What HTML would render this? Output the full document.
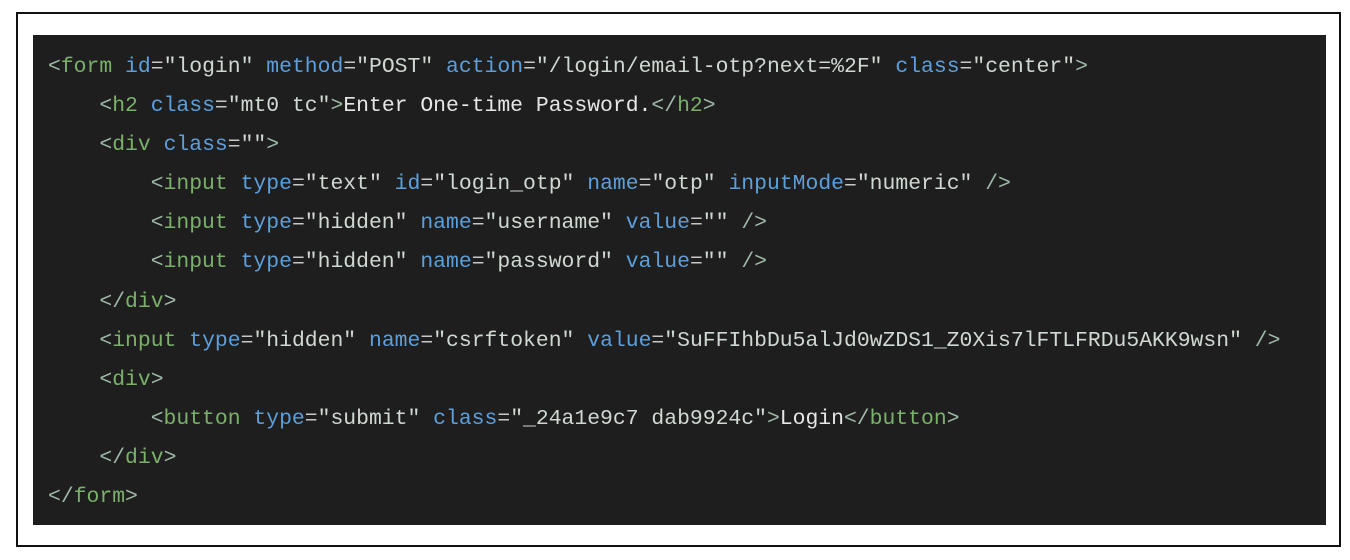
<!DOCTYPE html>
<html><head><meta charset="utf-8"><style>
body{margin:0;width:1350px;height:560px;background:#fff;position:relative;overflow:hidden}
.frame{position:absolute;left:16px;top:12px;width:1321px;height:531px;border:2px solid #111;box-sizing:content-box}
.code{position:absolute;left:33px;top:35px;width:1293px;height:490px;background:#1e1e1e;box-sizing:border-box;padding:13px 0 0 15px;font-family:"Liberation Mono",monospace;font-size:21.4px;line-height:39.1px;white-space:pre;color:#d4d4d4}
.p{color:#9fb8a8}.t{color:#7ab06a}.a{color:#5c9fdc}.e{color:#c8c8c8}.s{color:#d0d8d2}.x{color:#e6e6e6}
</style></head><body>
<div class="frame"></div>
<div class="code"><span class="p">&lt;</span><span class="t">form</span> <span class="a">id</span><span class="e">=</span><span class="s">"login"</span> <span class="a">method</span><span class="e">=</span><span class="s">"POST"</span> <span class="a">action</span><span class="e">=</span><span class="s">"/login/email-otp?next=%2F"</span> <span class="a">class</span><span class="e">=</span><span class="s">"center"</span><span class="p">&gt;</span>
    <span class="p">&lt;</span><span class="t">h2</span> <span class="a">class</span><span class="e">=</span><span class="s">"mt0 tc"</span><span class="p">&gt;</span><span class="x">Enter One-time Password.</span><span class="p">&lt;/</span><span class="t">h2</span><span class="p">&gt;</span>
    <span class="p">&lt;</span><span class="t">div</span> <span class="a">class</span><span class="e">=</span><span class="s">""</span><span class="p">&gt;</span>
        <span class="p">&lt;</span><span class="t">input</span> <span class="a">type</span><span class="e">=</span><span class="s">"text"</span> <span class="a">id</span><span class="e">=</span><span class="s">"login_otp"</span> <span class="a">name</span><span class="e">=</span><span class="s">"otp"</span> <span class="a">inputMode</span><span class="e">=</span><span class="s">"numeric"</span> <span class="p">/&gt;</span>
        <span class="p">&lt;</span><span class="t">input</span> <span class="a">type</span><span class="e">=</span><span class="s">"hidden"</span> <span class="a">name</span><span class="e">=</span><span class="s">"username"</span> <span class="a">value</span><span class="e">=</span><span class="s">""</span> <span class="p">/&gt;</span>
        <span class="p">&lt;</span><span class="t">input</span> <span class="a">type</span><span class="e">=</span><span class="s">"hidden"</span> <span class="a">name</span><span class="e">=</span><span class="s">"password"</span> <span class="a">value</span><span class="e">=</span><span class="s">""</span> <span class="p">/&gt;</span>
    <span class="p">&lt;/</span><span class="t">div</span><span class="p">&gt;</span>
    <span class="p">&lt;</span><span class="t">input</span> <span class="a">type</span><span class="e">=</span><span class="s">"hidden"</span> <span class="a">name</span><span class="e">=</span><span class="s">"csrftoken"</span> <span class="a">value</span><span class="e">=</span><span class="s">"SuFFIhbDu5alJd0wZDS1_Z0Xis7lFTLFRDu5AKK9wsn"</span> <span class="p">/&gt;</span>
    <span class="p">&lt;</span><span class="t">div</span><span class="p">&gt;</span>
        <span class="p">&lt;</span><span class="t">button</span> <span class="a">type</span><span class="e">=</span><span class="s">"submit"</span> <span class="a">class</span><span class="e">=</span><span class="s">"_24a1e9c7 dab9924c"</span><span class="p">&gt;</span><span class="x">Login</span><span class="p">&lt;/</span><span class="t">button</span><span class="p">&gt;</span>
    <span class="p">&lt;/</span><span class="t">div</span><span class="p">&gt;</span>
<span class="p">&lt;/</span><span class="t">form</span><span class="p">&gt;</span></div>
</body></html>
